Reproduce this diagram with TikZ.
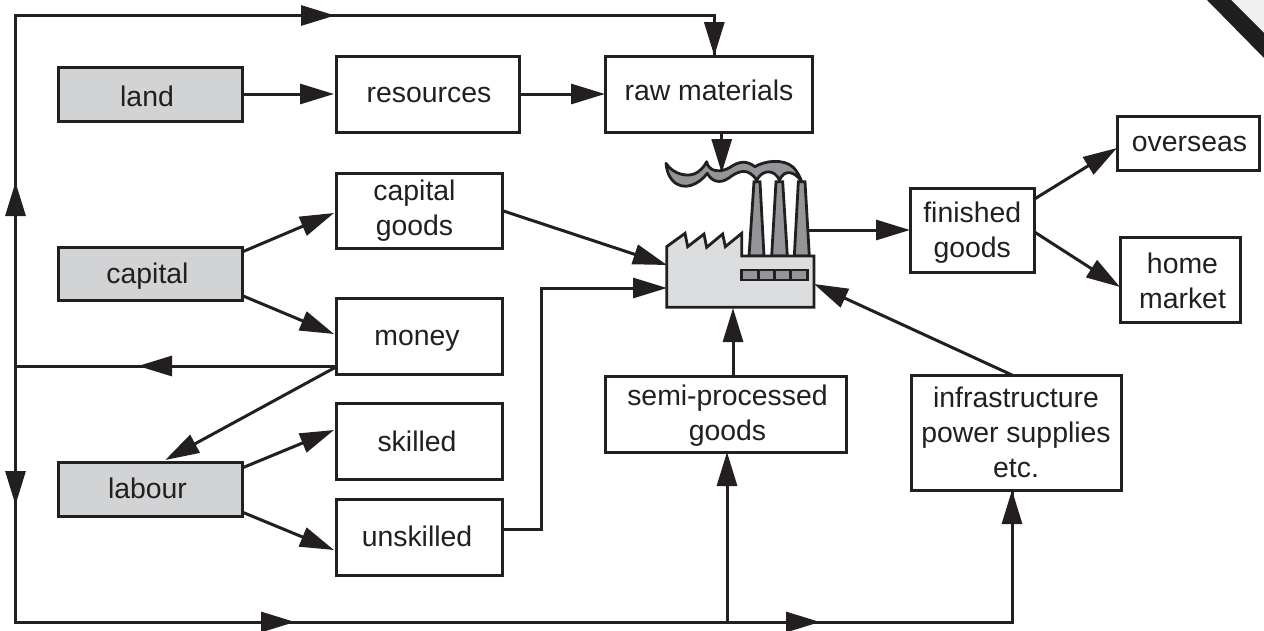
\documentclass[tikz,border=0pt]{standalone}
\usepackage{fontspec}
\setmainfont{Liberation Sans}
\usetikzlibrary{arrows.meta}
\definecolor{ink}{HTML}{231F20}
\definecolor{boxgrey}{HTML}{D1D3D4}
\definecolor{bodygrey}{HTML}{DCDDDE}
\definecolor{stackgrey}{HTML}{939598}
\newcommand{\tx}[3]{\raisebox{#2}[0pt][0pt]{\makebox[0pt][l]{\kern\dimexpr#1-200pt\relax\parbox[t]{400pt}{\centering #3}}}}
\tikzset{
  plainbox/.style={draw=ink,line width=3pt,fill=white,inner sep=0pt,outer sep=0pt,text=ink,
    font=\fontsize{28.4}{35}\selectfont},
  greybox/.style={plainbox,fill=boxgrey},
  conn/.style={draw=ink,line width=3pt},
  arr/.style={conn,-{Triangle[length=34pt,width=20pt,fill=ink]}},
  shapeline/.style={draw=ink,line width=2.8pt,line join=miter}
}
\begin{document}
\begin{tikzpicture}[x=1pt,y=-1pt]
\useasboundingbox (0,0) rectangle (1264,630);
% page-corner mark
\fill[gray!12] (1231,0) -- (1264,0) -- (1264,33) -- cycle;
\fill[black!88] (1207,0) -- (1264,58) -- (1264,33) -- (1231,0) -- cycle;

% boxes
\node[greybox,minimum width=183.5pt,minimum height=54pt] (land) at (150.25,94) {\tx{-3.25pt}{-12pt}{land}};
\node[greybox,minimum width=183.5pt,minimum height=53pt] (capital) at (150.25,273.5) {\tx{-2.75pt}{-9.5pt}{capital}};
\node[greybox,minimum width=183.5pt,minimum height=54pt] (labour) at (150.25,489) {\tx{-2.75pt}{-9pt}{labour}};
\node[plainbox,minimum width=183pt,minimum height=76pt] (resources) at (427.5,94) {\tx{1.5pt}{-8.7pt}{resources}};
\node[plainbox,minimum width=207pt,minimum height=76pt] (raw) at (708.5,94) {\tx{0.5pt}{-6.7pt}{raw materials}};
\node[plainbox,minimum width=166pt,minimum height=75pt] (capgoods) at (419,210.5) {\tx{-4.5pt}{10.5pt}{capital\\goods}};
\node[plainbox,minimum width=166pt,minimum height=76pt] (money) at (419,336) {\tx{-2pt}{-9pt}{money}};
\node[plainbox,minimum width=166pt,minimum height=76pt] (skilled) at (419,441) {\tx{-2pt}{-10pt}{skilled}};
\node[plainbox,minimum width=166pt,minimum height=76pt] (unskilled) at (419,537) {\tx{-2pt}{-9pt}{unskilled}};
\node[plainbox,minimum width=124.5pt,minimum height=84pt] (finished) at (972.25,230) {\tx{0pt}{8pt}{finished\\goods}};
\node[plainbox,minimum width=142pt,minimum height=54pt] (overseas) at (1188,143) {\tx{1.5pt}{-8pt}{overseas}};
\node[plainbox,minimum width=120pt,minimum height=85pt] (home) at (1180,279.5) {\tx{2.5pt}{6.5pt}{home\\market}};
\node[plainbox,minimum width=241pt,minimum height=76pt] (semi) at (725.5,414) {\tx{2pt}{8.3pt}{semi-processed\\goods}};
\node[plainbox,minimum width=210pt,minimum height=115pt] (infra) at (1016.75,432.5) {\tx{-0.75pt}{25.5pt}{infrastructure\\power supplies\\etc.}};

% factory drawing
\begin{scope}[shift={(640,130)},x=0.33333pt,y=-0.33333pt]
  \filldraw[shapeline,fill=stackgrey] (327,378) -- (342,155) -- (360,155) -- (372,378) -- cycle;
  \filldraw[shapeline,fill=stackgrey] (395,378) -- (408,155) -- (428,155) -- (442,378) -- cycle;
  \filldraw[shapeline,fill=stackgrey] (463,378) -- (475,155) -- (495,155) -- (508,378) -- cycle;
  \filldraw[shapeline,fill=stackgrey,line join=round]
    (78,100) .. controls (100,135) and (150,145) .. (175,125)
    .. controls (188,115) and (195,105) .. (200,95)
    .. controls (205,125) and (240,130) .. (270,112)
    .. controls (300,92) and (320,92) .. (345,110)
    .. controls (375,92) and (430,85) .. (460,112)
    .. controls (472,125) and (480,140) .. (485,155)
    .. controls (465,125) and (435,115) .. (418,150)
    .. controls (405,120) and (370,115) .. (350,150)
    .. controls (325,115) and (300,118) .. (265,145)
    .. controls (240,162) and (215,155) .. (202,130)
    .. controls (175,165) and (130,185) .. (98,152)
    .. controls (85,138) and (80,120) .. (78,100) -- cycle;
  \filldraw[shapeline,fill=bodygrey] (80,350) -- (135,310) -- (143,350) -- (192,312) -- (200,352)
    -- (248,312) -- (256,350) -- (305,310) -- (305,378) -- (522,378) -- (522,532) -- (80,532) -- cycle;
  \filldraw[shapeline,fill=stackgrey] (305,420) rectangle (503,450);
  \draw[shapeline] (355,420) -- (355,450) (403,420) -- (403,450) (452,420) -- (452,450);
\end{scope}
\node[inner sep=0pt,outer sep=0pt,minimum width=147pt,minimum height=52pt] (factory) at (740.5,282) {};
\coordinate (smoke) at (721.7,173);
\coordinate (stack) at (809,230);

% junctions and mid-line arrow points
\coordinate (tl) at (15.5,15.5);
\coordinate (bl) at (15.5,622);
\coordinate (j1) at (15.5,366);
\coordinate (j2) at (727,622);
\coordinate (up1) at (15.5,182);
\coordinate (dn1) at (15.5,505);
\coordinate (top1) at (335,15.5);
\coordinate (left1) at (138,366);
\coordinate (bot1) at (295,622);
\coordinate (bot2) at (820,622);
\coordinate (uk) at (541,529);

% outer loop: continuous lines first, arrowheads on top
\draw[conn,line join=miter] (top1) -| ([xshift=5.8pt]raw.north);
\draw[conn,line join=miter] (top1) -- (tl) -- (bl) -- (bot2);
\draw[conn] ([yshift=-30pt]money.west) -- (j1);
\draw[conn,line join=miter] (bot1) -- (bot2) -| ([xshift=-4.75pt]infra.south);
\draw[arr] (j1) -- (up1);
\draw[arr] (tl) -- (top1);
\draw[arr] (top1) -| ([xshift=5.8pt]raw.north);
\draw[arr] ([yshift=-30pt]money.west) -- (left1);
\draw[arr] (j1) -- (dn1);
\draw[arr] (bl) -- (bot1);
\draw[arr] (bot1) -- (bot2);
\draw[arr] (bot2) -| ([xshift=-4.75pt]infra.south);
\draw[arr] (j2) -- ([xshift=1.5pt]semi.south);

% inner connectors
\draw[arr] (land.east) -- ([xshift=-2pt]resources.west);
\draw[arr] (resources.east) -- (raw.west);
\draw[arr] ([xshift=13.2pt]raw.south) -- (smoke);
\draw[arr] ([yshift=21.5pt]capital.east) -- ([xshift=-2pt,yshift=-2.5pt]capgoods.west);
\draw[arr] ([yshift=-22pt]capital.east) -- ([xshift=-2pt,yshift=2pt]money.west);
\draw[arr] ([yshift=-31pt]money.west) -- ([xshift=15pt,yshift=2pt]labour.north);
\draw[arr] ([yshift=21pt]labour.east) -- ([xshift=-2pt,yshift=11pt]skilled.west);
\draw[arr] ([yshift=-23pt]labour.east) -- ([xshift=-2pt,yshift=-13pt]unskilled.west);
\draw[arr] (capgoods.east) -- ([yshift=17pt]factory.west);
\draw[arr] ([yshift=8pt]unskilled.east) -- (uk) |- ([yshift=-6pt]factory.west);
\draw[arr] ([xshift=7.5pt]semi.north) -- ([xshift=-7.5pt]factory.south);
\draw[arr] ([xshift=-4.75pt]infra.north) -- ([yshift=-2pt]factory.east);
\draw[arr] (stack) -- (finished.west);
\draw[arr] ([yshift=31pt]finished.east) -- ([yshift=-5pt]overseas.west);
\draw[arr] ([yshift=-2pt]finished.east) -- ([yshift=-7.5pt]home.west);
\end{tikzpicture}
\end{document}
